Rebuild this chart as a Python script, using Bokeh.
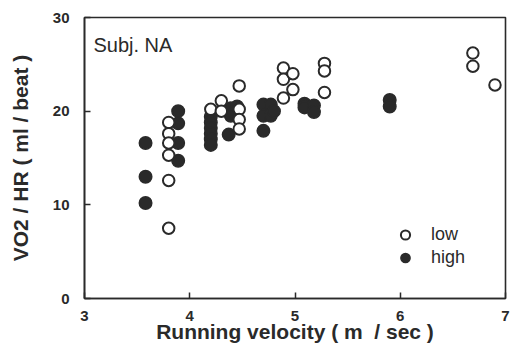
from bokeh.plotting import figure
from bokeh.models import ColumnDataSource, Range1d, FixedTicker, Label, Legend, LegendItem
from bokeh.embed import file_html
from bokeh.resources import INLINE

# ---- data ----
low_v = [3.8, 3.8, 3.8, 3.8, 3.8, 3.8,
         4.2, 4.3, 4.3, 4.47, 4.47, 4.47, 4.47,
         4.89, 4.89, 4.98, 4.98, 4.89,
         5.28, 5.28, 5.28,
         6.69, 6.69, 6.9]
low_r = [18.8, 17.6, 16.6, 15.3, 12.6, 7.5,
         20.2, 21.1, 20.0, 22.7, 20.2, 19.1, 18.1,
         24.6, 23.4, 24.0, 22.3, 21.4,
         25.1, 24.3, 22.0,
         26.2, 24.8, 22.8]

high_v = [3.58, 3.58, 3.58,
          3.89, 3.89, 3.89, 3.89,
          4.2, 4.2, 4.2, 4.2, 4.2, 4.2,
          4.39, 4.39, 4.37, 4.45,
          4.7, 4.77, 4.7, 4.77, 4.7, 4.8,
          5.09, 5.09, 5.18, 5.18,
          5.9, 5.9]
high_r = [16.6, 13.0, 10.2,
          20.0, 18.7, 16.6, 14.7,
          19.4, 18.8, 18.2, 17.6, 17.0, 16.4,
          20.3, 19.5, 17.5, 20.5,
          20.7, 20.7, 19.5, 19.5, 17.9, 20.0,
          20.8, 20.4, 20.6, 19.9,
          21.2, 20.5]

x_ticks = [3, 4, 5, 6, 7]
y_ticks = [0, 10, 20, 30]

INK = "#2a2a2a"
FONT = "Liberation Sans"

p = figure(width=510, height=360, output_backend="svg", toolbar_location=None,
           x_range=Range1d(3, 7), y_range=Range1d(0, 30),
           min_border_left=84, min_border_right=5, min_border_top=17, min_border_bottom=62)

p.grid.visible = False
p.outline_line_color = INK
p.outline_line_width = 1.6
p.background_fill_color = "white"
p.border_fill_color = "white"

for ax in (p.xaxis[0], p.yaxis[0]):
    ax.axis_line_color = INK
    ax.axis_line_width = 1.6
    ax.major_tick_line_color = INK
    ax.major_tick_line_width = 1.5
    ax.major_tick_out = 0
    ax.major_tick_in = 6
    ax.minor_tick_line_color = None
    ax.major_label_text_font = FONT
    ax.major_label_text_font_style = "bold"
    ax.major_label_text_font_size = "15px"
    ax.major_label_text_color = INK
    ax.axis_label_text_font = FONT
    ax.axis_label_text_font_style = "bold"
    ax.axis_label_text_font_size = "21px"
    ax.axis_label_text_color = INK

p.xaxis.ticker = FixedTicker(ticks=x_ticks)
p.yaxis.ticker = FixedTicker(ticks=y_ticks)
p.xaxis.axis_label = "Running velocity ( m \u00a0/ sec )"
p.yaxis.axis_label = "VO2 / HR ( ml / beat )"
p.xaxis.major_label_standoff = 12
p.yaxis.major_label_standoff = 15
p.xaxis.axis_label_standoff = -4
p.yaxis.axis_label_standoff = 18

src_high = ColumnDataSource(dict(x=high_v, y=high_r))
src_low = ColumnDataSource(dict(x=low_v, y=low_r))

r_high = p.scatter("x", "y", source=src_high, marker="circle", size=12.5,
                   fill_color=INK, line_color=INK, line_width=1.5)
r_low = p.scatter("x", "y", source=src_low, marker="circle", size=11.5,
                  fill_color="white", line_color=INK, line_width=2)

legend = Legend(items=[LegendItem(label="low", renderers=[r_low]),
                       LegendItem(label="high", renderers=[r_high])],
                location=(308, 29), orientation="vertical",
                glyph_width=26, glyph_height=23, label_height=23,
                spacing=0, padding=0, margin=0, label_standoff=13,
                label_text_font=FONT, label_text_font_size="18px",
                label_text_color=INK, border_line_color=None,
                background_fill_color=None)
p.add_layout(legend)

p.add_layout(Label(x=3.085, y=27.1, text="Subj. NA", text_font=FONT,
                   text_font_size="20px", text_color=INK, text_baseline="middle"))

open("out.html", "w").write(file_html(p, INLINE))
